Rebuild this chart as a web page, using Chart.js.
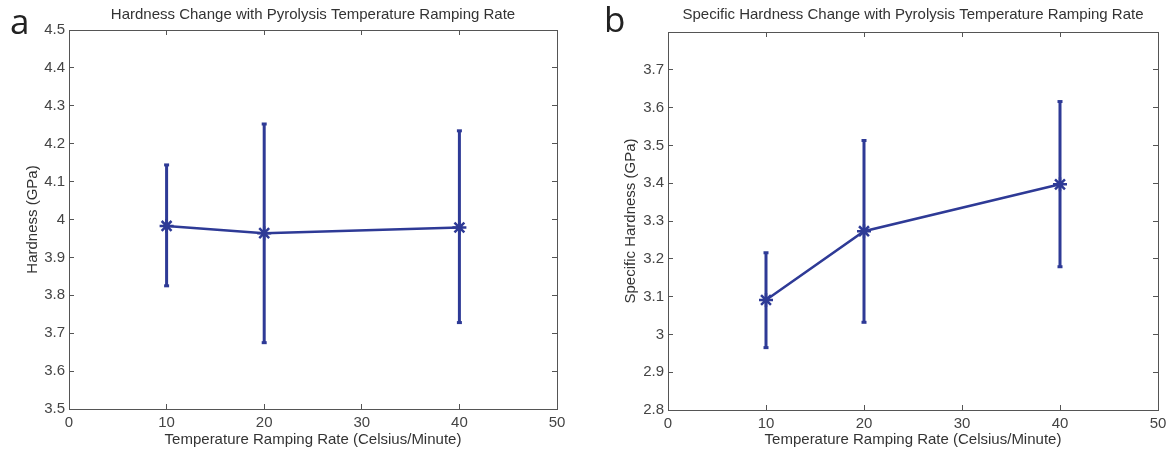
<!DOCTYPE html>
<html>
<head>
<meta charset="utf-8">
<script src="https://cdn.jsdelivr.net/npm/chart.js@4"></script>
<style>
  body { margin: 0; background: #fff; width: 1170px; height: 452px; position: relative; overflow: hidden; }
  .panel { position: absolute; top: 0; width: 585px; height: 452px; }
</style>
</head>
<body>
<div class="panel" style="left:0"><canvas id="chartA" width="585" height="452"></canvas></div>
<div class="panel" style="left:585px"><canvas id="chartB" width="585" height="452"></canvas></div>
<script>
// datos
const rates = [10, 20, 40]
const hardness = [3.983, 3.964, 3.979]
const hardnessHigh = [4.144, 4.252, 4.234]
const hardnessLow = [3.825, 3.675, 3.728]
const specHardness = [3.091, 3.273, 3.397]
const specHigh = [3.216, 3.513, 3.616]
const specLow = [2.965, 3.032, 3.179]

// etiquetas de ejes
const xTicks = [0, 10, 20, 30, 40, 50]
const hardnessTicks = [3.5, 3.6, 3.7, 3.8, 3.9, 4, 4.1, 4.2, 4.3, 4.4, 4.5]
const specTicks = [2.8, 2.9, 3, 3.1, 3.2, 3.3, 3.4, 3.5, 3.6, 3.7]

const BLUE = "#2e3a96"
const FONT = "'Liberation Sans', Arial, sans-serif"

// letra del panel (a / b)
const panelLetter = {
    id: "panelLetter",
    afterDraw(chart, args, opts) {
        const ctx = chart.ctx
        ctx.save()
        ctx.font = "35px 'Open Sans', sans-serif"
        ctx.fillStyle = "#222"
        ctx.textBaseline = "alphabetic"
        ctx.fillText(opts.text, opts.x, opts.y)
        ctx.restore()
    }
}

function stemPoints(high, low) {
    const pts = []
    rates.forEach((x, i) => {
        pts.push({ x: x, y: low[i] }, { x: x, y: high[i] }, { x: x, y: null })
    })
    return pts
}

function capPoints(high, low) {
    return rates.map((x, i) => ({ x: x, y: high[i] }))
        .concat(rates.map((x, i) => ({ x: x, y: low[i] })))
}

// sin relleno extra para etiquetas que sobresalen
function noPadding(s) {
    s.paddingLeft = 0
    s.paddingRight = 0
    s.paddingTop = 0
    s.paddingBottom = 0
}

function boxAxis(position, min, max, ticks) {
    const horizontal = position === "top"
    return {
        type: "linear",
        position: position,
        min: min,
        max: max,
        afterBuildTicks: s => { s.ticks = ticks.map(v => ({ value: v })) },
        afterFit: s => {
            if (horizontal) s.height = 0; else s.width = 0
            noPadding(s)
        },
        ticks: { display: false },
        grid: { drawOnChartArea: false, tickLength: -5, color: "#555", lineWidth: 1 },
        border: { display: true, color: "#555", width: 1 }
    }
}

// crear un panel
function createPanel(id, cfg) {
    new Chart(document.getElementById(id), {
        type: "line",
        data: {
            datasets: [
                {
                    data: stemPoints(cfg.high, cfg.low),
                    borderColor: BLUE,
                    borderWidth: 3,
                    pointRadius: 0,
                    spanGaps: false
                },
                {
                    data: capPoints(cfg.high, cfg.low),
                    showLine: false,
                    pointStyle: "line",
                    pointRadius: 2.5,
                    pointBorderWidth: 3,
                    pointBorderColor: BLUE
                },
                {
                    data: rates.map((x, i) => ({ x: x, y: cfg.values[i] })),
                    borderColor: BLUE,
                    borderWidth: 2.5,
                    pointStyle: "star",
                    pointRadius: 7,
                    pointBorderWidth: 2.5,
                    pointBorderColor: BLUE,
                    pointBackgroundColor: BLUE
                }
            ]
        },
        options: {
            responsive: false,
            animation: false,
            events: [],
            layout: { padding: { left: 0, right: cfg.padRight, top: 0, bottom: 0 } },
            plugins: {
                legend: { display: false },
                tooltip: { enabled: false },
                title: {
                    display: true,
                    fullSize: false,
                    text: cfg.title,
                    color: "#333",
                    font: { family: FONT, size: 15, weight: "normal" },
                    padding: { top: 6, bottom: cfg.titleGap }
                },
                panelLetter: { text: cfg.letter, x: cfg.letterX, y: cfg.letterY }
            },
            scales: {
                x: {
                    type: "linear",
                    min: 0,
                    max: 50,
                    afterBuildTicks: s => { s.ticks = xTicks.map(v => ({ value: v })) },
                    afterFit: s => { s.height = cfg.xHeight; noPadding(s) },
                    ticks: { color: "#444", font: { family: FONT, size: 15 }, padding: 10, callback: v => String(v) },
                    grid: { drawOnChartArea: false, tickLength: -5, color: "#555", lineWidth: 1 },
                    border: { display: true, color: "#555", width: 1 },
                    title: {
                        display: true,
                        text: "Temperature Ramping Rate (Celsius/Minute)",
                        color: "#333",
                        font: { family: FONT, size: 15 },
                        padding: { top: 0, bottom: 3 }
                    }
                },
                y: {
                    type: "linear",
                    min: cfg.yMin,
                    max: cfg.yMax,
                    afterBuildTicks: s => { s.ticks = cfg.yTicks.map(v => ({ value: v })) },
                    afterFit: s => { s.width = cfg.yWidth; noPadding(s) },
                    ticks: { color: "#444", font: { family: FONT, size: 15 }, padding: 9, callback: v => String(v) },
                    grid: { drawOnChartArea: false, tickLength: -5, color: "#555", lineWidth: 1 },
                    border: { display: true, color: "#555", width: 1 },
                    title: {
                        display: true,
                        text: cfg.yTitle,
                        color: "#333",
                        font: { family: FONT, size: 15 },
                        padding: { top: cfg.yTitlePad, bottom: 0 }
                    }
                },
                x2: boxAxis("top", 0, 50, xTicks),
                y2: boxAxis("right", cfg.yMin, cfg.yMax, cfg.yTicks)
            }
        },
        plugins: [panelLetter]
    })
}

createPanel("chartA", {
    letter: "a", letterX: 10, letterY: 34,
    title: "Hardness Change with Pyrolysis Temperature Ramping Rate",
    yTitle: "Hardness (GPa)",
    values: hardness, high: hardnessHigh, low: hardnessLow,
    yMin: 3.5, yMax: 4.5, yTicks: hardnessTicks,
    yWidth: 69, xHeight: 43, padRight: 28, titleGap: 6, yTitlePad: 24
})

createPanel("chartB", {
    letter: "b", letterX: 19, letterY: 32,
    title: "Specific Hardness Change with Pyrolysis Temperature Ramping Rate",
    yTitle: "Specific Hardness (GPa)",
    values: specHardness, high: specHigh, low: specLow,
    yMin: 2.8, yMax: 3.8, yTicks: specTicks,
    yWidth: 83, xHeight: 42, padRight: 12, titleGap: 8, yTitlePad: 37
})
</script>
</body>
</html>
